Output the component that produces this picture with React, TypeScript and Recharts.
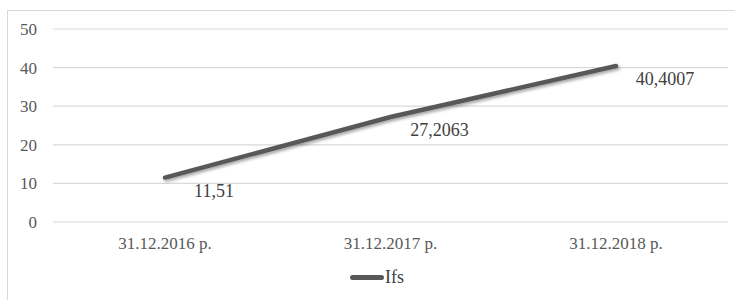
import { LineChart, Line, XAxis, YAxis, CartesianGrid, Legend } from "recharts";

const categories = ["31.12.2016 р.", "31.12.2017 р.", "31.12.2018 р."];
const ifsValues = [11.51, 27.2063, 40.4007];
const yTicks = [0, 10, 20, 30, 40, 50];

const data = categories.map((c, i) => ({ date: c, ifs: ifsValues[i] }));

const serif = "Liberation Serif";

const renderLabel = (props: any) => {
  const { x, y, value } = props;
  return (
    <text x={x + 49} y={y + 13} dy="0.35em" textAnchor="middle" style={{ fontFamily: serif }} fontSize={18} fill="#404040">
      {String(value).replace(".", ",")}
    </text>
  );
};

const renderLegend = () => (
  <div style={{ display: "flex", alignItems: "center", fontFamily: serif, fontSize: 18, color: "#404040" }}>
    <span style={{ display: "inline-block", width: 34, height: 5, borderRadius: 3, background: "#595959", marginRight: 1 }} />
    <span>Ifs</span>
  </div>
);

export default function App() {
  return (
    <div style={{ position: "fixed", left: 0, top: 0, width: 735, height: 300, background: "#fff", overflow: "hidden", fontFamily: serif }}>
      <div
        style={{
          position: "absolute",
          left: 7,
          top: 10,
          width: 740,
          height: 300,
          borderLeft: "1px solid #d9d9d9",
          borderTop: "1px solid #d9d9d9",
        }}
      />
      <LineChart width={735} height={300} data={data} margin={{ top: 29, right: 7, bottom: 0, left: 0 }} style={{ fontFamily: serif }}>
        <defs>
          <filter id="shadow" x="-10%" y="-50%" width="120%" height="200%">
            <feDropShadow dx="1.5" dy="2" stdDeviation="1.5" floodColor="#000" floodOpacity="0.35" />
          </filter>
        </defs>
        <CartesianGrid vertical={false} stroke="#d9d9d9" strokeWidth={1.2} />
        <XAxis
          dataKey="date"
          axisLine={false}
          tickLine={false}
          tickSize={0}
          tickMargin={15}
          height={78}
          padding={{ left: 112, right: 112 }}
          tick={{ fontFamily: serif, fontSize: 17, fill: "#595959" }}
        />
        <YAxis
          domain={[0, 50]}
          ticks={yTicks}
          axisLine={false}
          tickLine={false}
          tickSize={0}
          tickMargin={16}
          width={53}
          tick={{ fontFamily: serif, fontSize: 17, fill: "#595959" }}
        />
        <Legend
          verticalAlign="middle"
          content={renderLegend}
          wrapperStyle={{ position: "absolute", top: 267, left: 350, width: "auto" }}
        />
        <Line
          type="linear"
          dataKey="ifs"
          name="Ifs"
          stroke="#595959"
          strokeWidth={4.5}
          strokeLinecap="round"
          dot={false}
          activeDot={false}
          filter="url(#shadow)"
          label={renderLabel}
          isAnimationActive={false}
        />
      </LineChart>
    </div>
  );
}
